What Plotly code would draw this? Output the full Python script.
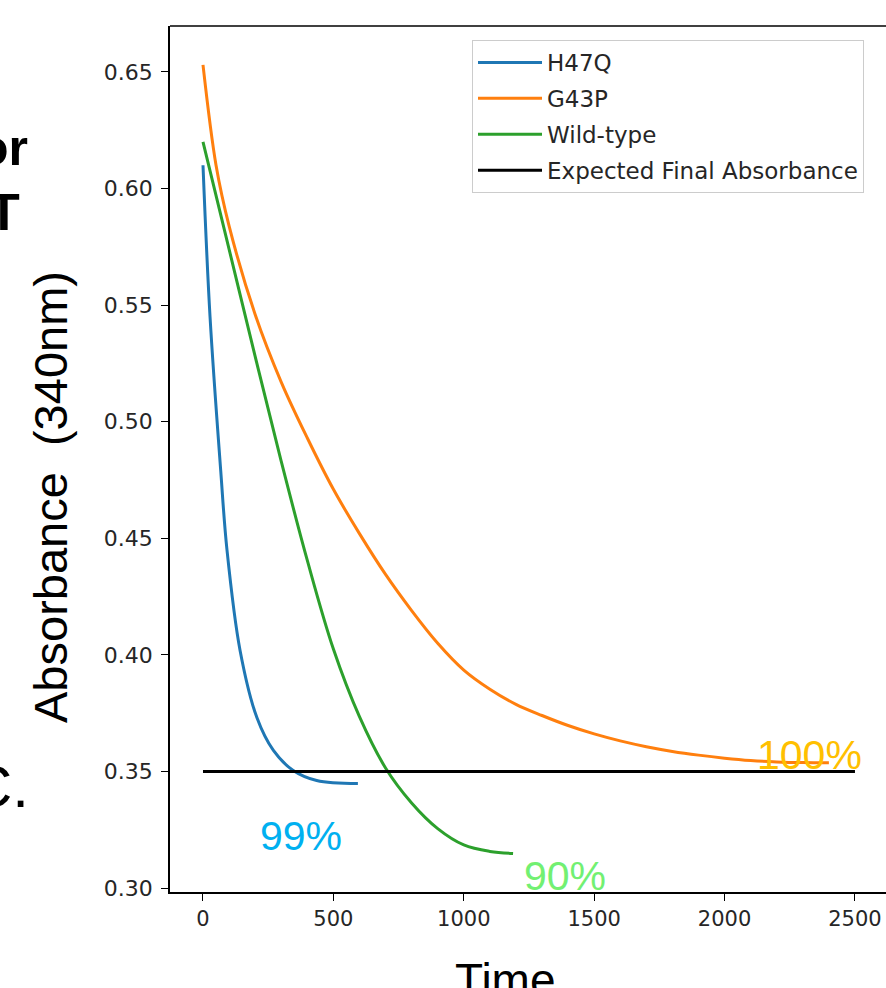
import plotly.graph_objects as go

# ---- data ----
h47q_t = [0, 27, 68, 92, 142, 207, 270, 346, 436, 594]
h47q_v = [0.610, 0.545, 0.479, 0.445, 0.402, 0.373, 0.359, 0.3504, 0.3461, 0.3448]

g43p_t = [0, 50, 100, 200, 300, 400, 500, 600, 700, 800, 900, 1000, 1100, 1200, 1300,
          1400, 1500, 1600, 1700, 1800, 1900, 2000, 2100, 2200, 2300, 2400]
g43p_v = [0.653, 0.610, 0.584, 0.546, 0.517, 0.493, 0.471, 0.452, 0.4345, 0.419, 0.405,
          0.3935, 0.3853, 0.3788, 0.3740, 0.3697, 0.3661, 0.3631, 0.3606, 0.3586, 0.3570,
          0.3557, 0.3547, 0.3541, 0.3538, 0.3537]

wt_t = [0, 100, 200, 300, 400, 500, 600, 700, 800, 900, 1000, 1100, 1189]
wt_v = [0.620, 0.574, 0.528, 0.483, 0.4405, 0.4025, 0.3735, 0.3515, 0.3365, 0.3255,
        0.3185, 0.3157, 0.3148]

expected_t = [0, 2500]
expected_v = [0.35, 0.35]

x_ticks = [0, 500, 1000, 1500, 2000, 2500]
y_ticks = [0.30, 0.35, 0.40, 0.45, 0.50, 0.55, 0.60, 0.65]

pct_labels = ["99%", "90%", "100%"]
pct_t = [376, 1388, 2327]
pct_v = [0.3225, 0.3050, 0.3570]
pct_colors = ["#00B0F0", "#72F072", "#FFC000"]

# ---- figure ----
W, H = 886, 988
L, R, T, B = 170, 0, 26, 96
pw, ph = W - L - R, H - T - B

def px_x(px):
    return (px - L) / pw

def px_y(py):
    return (H - B - py) / ph

fig = go.Figure()
series = [
    ("H47Q", h47q_t, h47q_v, "#1f77b4", "spline"),
    ("G43P", g43p_t, g43p_v, "#ff7f0e", "spline"),
    ("Wild-type", wt_t, wt_v, "#2ca02c", "spline"),
    ("Expected Final Absorbance", expected_t, expected_v, "black", "linear"),
]
for i, (name, t, v, c, shape) in enumerate(series):
    fig.add_trace(go.Scatter(
        x=t, y=v, mode="lines", name=name, legendgroup=str(i),
        line=dict(color=c, width=3, shape=shape, smoothing=1.0),
    ))

ann = []
for lab, t, v, c in zip(pct_labels, pct_t, pct_v, pct_colors):
    ann.append(dict(x=t, y=v, xref="x", yref="y", text=lab, showarrow=False,
                    font=dict(family="Liberation Sans, Arial", size=41, color=c),
                    xanchor="center", yanchor="middle"))

# axis titles
ann.append(dict(x=px_x(51), y=px_y(497), xref="paper", yref="paper",
                text="Absorbance  (340nm)", textangle=-90, showarrow=False,
                font=dict(family="Liberation Sans, Arial", size=47, color="black"),
                xanchor="center", yanchor="middle"))
ann.append(dict(x=px_x(505), y=px_y(980), xref="paper", yref="paper",
                text="Time", showarrow=False,
                font=dict(family="Liberation Sans, Arial", size=46, color="black"),
                xanchor="center", yanchor="middle"))
# slide text fragments cut off at the left edge
ann.append(dict(x=px_x(30), y=px_y(148), xref="paper", yref="paper", text="<b>or</b>",
                showarrow=False, font=dict(family="Liberation Sans, Arial", size=50, color="black"),
                xanchor="right", yanchor="middle"))
ann.append(dict(x=px_x(22), y=px_y(212), xref="paper", yref="paper", text="<b>T</b>",
                showarrow=False, font=dict(family="Liberation Sans, Arial", size=52, color="black"),
                xanchor="right", yanchor="middle"))
ann.append(dict(x=px_x(31), y=px_y(786), xref="paper", yref="paper", text="C.",
                showarrow=False, font=dict(family="Liberation Sans, Arial", size=60, color="black"),
                xanchor="right", yanchor="middle"))

fig.update_layout(
    width=W, height=H,
    margin=dict(l=L, r=R, t=T, b=B, pad=0),
    paper_bgcolor="white", plot_bgcolor="white",
    showlegend=True,
    legend=dict(x=px_x(472), y=px_y(40), xanchor="left", yanchor="top",
                bgcolor="white", bordercolor="#cccccc", borderwidth=1,
                font=dict(family="DejaVu Sans", size=23, color="#262626"),
                tracegroupgap=3, traceorder="grouped", itemwidth=64),
    annotations=ann,
    shapes=[dict(type="line", xref="paper", yref="paper", x0=0, x1=1, y0=1, y1=1,
                 line=dict(color="black", width=1.5))],
)
fig.update_xaxes(range=[-126.5, 2619], tickvals=x_ticks, ticks="outside", ticklen=7,
                 tickwidth=1.3, tickcolor="black", showline=True, linecolor="black",
                 linewidth=1.5, showgrid=False, zeroline=False,
                 tickfont=dict(family="DejaVu Sans", size=21, color="#262626"))
fig.update_yaxes(range=[0.2983, 0.6697], tickvals=y_ticks, tickformat=".2f", ticks="outside",
                 ticklen=7, tickwidth=1.3, tickcolor="black", showline=True, linecolor="black",
                 linewidth=1.5, showgrid=False, zeroline=False, ticklabelstandoff=4,
                 tickfont=dict(family="DejaVu Sans", size=22, color="#262626"))

fig.write_html("out.html")
